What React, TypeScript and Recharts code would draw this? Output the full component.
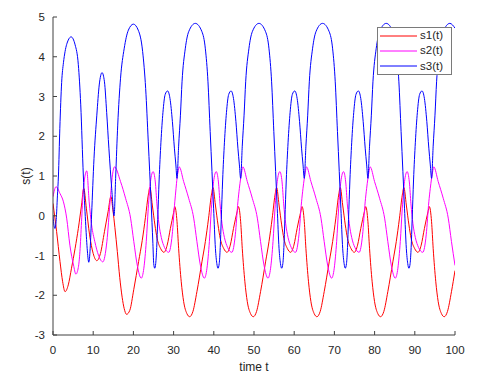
import React from 'react';
import { LineChart, Line, XAxis, YAxis, Legend } from 'recharts';

const xTicks = [0, 10, 20, 30, 40, 50, 60, 70, 80, 90, 100];
const yTicks = [-3, -2, -1, 0, 1, 2, 3, 4, 5];
const seriesNames = ['s1(t)', 's2(t)', 's3(t)'];
const seriesColors = ['#ff0000', '#ff00ff', '#0000ff'];

// s1(t) – red
const s1Time = [
  0, 0.9, 1.74, 2.4, 3.0, 3.8, 4.6, 5.5, 6.3, 7.1, 7.65, 8.3, 9.1, 10.0, 10.9, 11.8, 12.8, 13.7, 14.4, 14.9,
  15.4, 16.0, 16.6, 17.2, 17.7, 18.3, 19.1, 20.1, 21.3, 22.2, 23.0, 23.7, 24.1, 24.7, 25.35, 25.9, 26.75, 27.6,
  28.4, 29.2, 30.0,
  30.3, 30.85, 31.25, 31.9, 32.5, 33.3, 34.0, 34.8, 35.8, 37.05, 37.9, 38.7, 39.4, 39.8, 40.4, 41.05, 41.6,
  42.45, 43.3, 44.1, 44.9, 45.8,
  46.13, 46.68, 47.08, 47.73, 48.33, 49.13, 49.83, 50.63, 51.63, 52.88, 53.73, 54.53, 55.23, 55.63, 56.23,
  56.88, 57.43, 58.28, 59.13, 59.93, 60.73, 61.63,
  61.96, 62.51, 62.91, 63.56, 64.16, 64.96, 65.66, 66.46, 67.46, 68.71, 69.56, 70.36, 71.06, 71.46, 72.06,
  72.71, 73.26, 74.11, 74.96, 75.76, 76.56, 77.46,
  77.79, 78.34, 78.74, 79.39, 79.99, 80.79, 81.49, 82.29, 83.29, 84.54, 85.39, 86.19, 86.89, 87.29, 87.89,
  88.54, 89.09, 89.94, 90.79, 91.59, 92.39, 93.29,
  93.62, 94.17, 94.57, 95.22, 95.82, 96.62, 97.32, 98.12, 99.12, 100,
];
const s1Value = [
  0.31, -0.4, -1.15, -1.66, -1.91, -1.74, -1.32, -0.82, -0.32, 0.27, 0.69, 0.19, -0.48, -0.95, -1.13, -0.95,
  -0.4, 0.1, 0.48, 0.15, -0.3, -0.9, -1.55, -2.05, -2.33, -2.48, -2.38, -1.85, -1.15, -0.62, -0.04, 0.52, 0.71,
  0.27, -0.23, -0.57, -0.82, -0.92, -0.74, -0.32, 0.08,
  0.23, -0.15, -0.82, -1.66, -2.16, -2.46, -2.54, -2.41, -1.91, -1.16, -0.65, -0.06, 0.52, 0.71, 0.27, -0.23,
  -0.57, -0.82, -0.92, -0.74, -0.32, 0.1,
  0.23, -0.15, -0.82, -1.66, -2.16, -2.46, -2.54, -2.41, -1.91, -1.16, -0.65, -0.06, 0.52, 0.71, 0.27, -0.23,
  -0.57, -0.82, -0.92, -0.74, -0.32, 0.1,
  0.23, -0.15, -0.82, -1.66, -2.16, -2.46, -2.54, -2.41, -1.91, -1.16, -0.65, -0.06, 0.52, 0.71, 0.27, -0.23,
  -0.57, -0.82, -0.92, -0.74, -0.32, 0.1,
  0.23, -0.15, -0.82, -1.66, -2.16, -2.46, -2.54, -2.41, -1.91, -1.16, -0.65, -0.06, 0.52, 0.71, 0.27, -0.23,
  -0.57, -0.82, -0.92, -0.74, -0.32, 0.1,
  0.23, -0.15, -0.82, -1.66, -2.16, -2.46, -2.54, -2.41, -1.91, -1.38,
];

// s2(t) – magenta
const s2Time = [
  0, 0.75, 1.74, 2.6, 3.4, 4.2, 5.1, 5.7, 6.3, 6.7, 7.1, 7.5, 8.4, 9.0, 9.6, 10.4, 11.3, 12.4, 13.4, 14.2, 14.8,
  15.3, 16.8, 18.05, 19.3, 20.1, 20.95, 21.95, 22.6, 23.2, 23.7, 24.25, 24.9, 25.45, 25.85, 26.35, 26.95, 27.75,
  28.8, 29.65, 30.3, 30.6,
  30.85, 31.1, 31.4, 32.5, 33.75, 35.0, 35.8, 36.65, 37.65, 38.3, 38.9, 39.4, 39.95, 40.6, 41.15, 41.55, 42.05,
  42.65, 43.45, 44.5, 45.35, 46.0, 46.35,
  46.68, 46.93, 47.23, 48.33, 49.58, 50.83, 51.63, 52.48, 53.48, 54.13, 54.73, 55.23, 55.78, 56.43, 56.98,
  57.38, 57.88, 58.48, 59.28, 60.33, 61.18, 61.83, 62.18,
  62.51, 62.76, 63.06, 64.16, 65.41, 66.66, 67.46, 68.31, 69.31, 69.96, 70.56, 71.06, 71.61, 72.26, 72.81,
  73.21, 73.71, 74.31, 75.11, 76.16, 77.01, 77.66, 78.01,
  78.34, 78.59, 78.89, 79.99, 81.24, 82.49, 83.29, 84.14, 85.14, 85.79, 86.39, 86.89, 87.44, 88.09, 88.64,
  89.04, 89.54, 90.14, 90.94, 91.99, 92.84, 93.49, 93.84,
  94.17, 94.42, 94.72, 95.82, 97.07, 98.32, 99.12, 100,
];
const s2Value = [
  0.48, 0.73, 0.56, 0.35, -0.06, -0.74, -1.24, -1.47, -1.3, -0.9, -0.15, 0.6, 1.13, 0.35, -0.23, -0.65, -0.99,
  -1.16, -0.65, 0.35, 1.03, 1.23, 0.86, 0.44, -0.06, -0.65, -1.24, -1.57, -1.32, -0.65, 0.19, 0.86, 1.11, 0.85,
  0.3, -0.2, -0.55, -0.8, -0.92, -0.48, 0.35, 0.68,
  0.94, 1.1, 1.23, 0.86, 0.44, -0.06, -0.65, -1.24, -1.57, -1.32, -0.65, 0.19, 0.86, 1.11, 0.85, 0.3, -0.2,
  -0.55, -0.8, -0.92, -0.48, 0.35, 0.68,
  0.94, 1.1, 1.23, 0.86, 0.44, -0.06, -0.65, -1.24, -1.57, -1.32, -0.65, 0.19, 0.86, 1.11, 0.85, 0.3, -0.2,
  -0.55, -0.8, -0.92, -0.48, 0.35, 0.68,
  0.94, 1.1, 1.23, 0.86, 0.44, -0.06, -0.65, -1.24, -1.57, -1.32, -0.65, 0.19, 0.86, 1.11, 0.85, 0.3, -0.2,
  -0.55, -0.8, -0.92, -0.48, 0.35, 0.68,
  0.94, 1.1, 1.23, 0.86, 0.44, -0.06, -0.65, -1.24, -1.57, -1.32, -0.65, 0.19, 0.86, 1.11, 0.85, 0.3, -0.2,
  -0.55, -0.8, -0.92, -0.48, 0.35, 0.68,
  0.94, 1.1, 1.23, 0.86, 0.44, -0.06, -0.65, -1.25,
];

// s3(t) – blue
const s3Time = [
  0, 0.25, 0.5, 0.8, 1.1, 1.35, 1.7, 2.15, 2.6, 3.0, 3.8, 4.5, 5.5, 6.3, 6.9, 7.55, 8.1, 8.5, 8.9, 9.25, 9.6,
  10.2, 10.9, 11.5, 12.2, 12.8, 13.35, 13.9, 14.6, 15.2, 15.6, 16.1, 16.8, 17.7, 18.75, 20.0, 21.2, 22.3, 23.05,
  23.7, 24.4, 24.85, 25.05, 25.3, 25.55, 25.8, 26.05, 26.4, 26.85, 27.35, 27.9, 28.5, 29.1, 29.7, 30.2, 30.55,
  30.85, 31.25, 31.7, 32.1, 32.9, 33.75, 35.4, 37.05, 37.9, 38.55, 39.1, 39.55, 39.95, 40.4, 40.75, 41.05,
  41.35, 41.6, 41.85, 42.2, 42.65, 43.15, 43.7, 44.3, 44.9, 45.5, 46.0, 46.35,
  46.68, 47.08, 47.53, 47.93, 48.73, 49.58, 51.23, 52.88, 53.73, 54.38, 54.93, 55.38, 55.78, 56.23, 56.58,
  56.88, 57.18, 57.43, 57.68, 58.03, 58.48, 58.98, 59.53, 60.13, 60.73, 61.33, 61.83, 62.18,
  62.51, 62.91, 63.36, 63.76, 64.56, 65.41, 67.06, 68.71, 69.56, 70.21, 70.76, 71.21, 71.61, 72.06, 72.41,
  72.71, 73.01, 73.26, 73.51, 73.86, 74.31, 74.81, 75.36, 75.96, 76.56, 77.16, 77.66, 78.01,
  78.34, 78.74, 79.19, 79.59, 80.39, 81.24, 82.89, 84.54, 85.39, 86.04, 86.59, 87.04, 87.44, 87.89, 88.24,
  88.54, 88.84, 89.09, 89.34, 89.69, 90.14, 90.64, 91.19, 91.79, 92.39, 92.99, 93.49, 93.84,
  94.17, 94.57, 95.02, 95.42, 96.22, 97.07, 98.72, 100,
];
const s3Value = [
  0.0, -0.25, -0.32, -0.1, 0.5, 1.0, 2.2, 3.35, 3.85, 4.13, 4.42, 4.5, 4.3, 3.8, 2.79, 1.0, -0.15, -0.82, -1.17,
  -0.82, 0.02, 1.44, 2.53, 3.29, 3.6, 3.37, 2.6, 1.7, 0.69, 0.0, 1.0, 2.28, 3.46, 4.2, 4.67, 4.82, 4.67, 4.13,
  3.2, 1.86, 0.35, -0.7, -1.2, -1.32, -1.2, -0.8, -0.1, 0.9, 1.85, 2.6, 3.05, 3.14, 2.95, 2.37, 1.7, 1.3,
  0.94, 1.75, 2.53, 3.37, 4.2, 4.63, 4.84, 4.63, 4.2, 3.37, 2.12, 1.11, 0.19, -0.82, -1.2, -1.32, -1.2, -0.8,
  -0.1, 0.9, 1.85, 2.6, 3.05, 3.14, 2.95, 2.37, 1.7, 1.3,
  0.94, 1.75, 2.53, 3.37, 4.2, 4.63, 4.84, 4.63, 4.2, 3.37, 2.12, 1.11, 0.19, -0.82, -1.2, -1.32, -1.2, -0.8,
  -0.1, 0.9, 1.85, 2.6, 3.05, 3.14, 2.95, 2.37, 1.7, 1.3,
  0.94, 1.75, 2.53, 3.37, 4.2, 4.63, 4.84, 4.63, 4.2, 3.37, 2.12, 1.11, 0.19, -0.82, -1.2, -1.32, -1.2, -0.8,
  -0.1, 0.9, 1.85, 2.6, 3.05, 3.14, 2.95, 2.37, 1.7, 1.3,
  0.94, 1.75, 2.53, 3.37, 4.2, 4.63, 4.84, 4.63, 4.2, 3.37, 2.12, 1.11, 0.19, -0.82, -1.2, -1.32, -1.2, -0.8,
  -0.1, 0.9, 1.85, 2.6, 3.05, 3.14, 2.95, 2.37, 1.7, 1.3,
  0.94, 1.75, 2.53, 3.37, 4.2, 4.63, 4.84, 4.72,
];

const zip = (ts: number[], vs: number[]) => ts.map((t, i) => ({ t, v: vs[i] }));
const seriesData = [zip(s1Time, s1Value), zip(s2Time, s2Value), zip(s3Time, s3Value)];

const FONT = '"Liberation Sans", Arial, Helvetica, sans-serif';
const AXIS_COLOR = '#404040';
const TEXT_COLOR = '#262626';
const TICK_LEN = 4;

const BottomTick = (props: any) => {
  const { x, y, payload } = props;
  return (
    <g>
      <line x1={x} x2={x} y1={y} y2={y - TICK_LEN} stroke={AXIS_COLOR} strokeWidth={1} />
      <text x={x} y={y + 19} textAnchor="middle" fontSize={11.5} fontFamily={FONT} fill={TEXT_COLOR}>
        {payload.value}
      </text>
    </g>
  );
};
const TopTick = (props: any) => {
  const { x, y } = props;
  return <line x1={x} x2={x} y1={y} y2={y + TICK_LEN} stroke={AXIS_COLOR} strokeWidth={1} />;
};
const LeftTick = (props: any) => {
  const { x, y, payload } = props;
  return (
    <g>
      <line x1={x} x2={x + TICK_LEN} y1={y} y2={y} stroke={AXIS_COLOR} strokeWidth={1} />
      <text x={x - 8} y={y + 4} textAnchor="end" fontSize={11.5} fontFamily={FONT} fill={TEXT_COLOR}>
        {payload.value}
      </text>
    </g>
  );
};
const RightTick = (props: any) => {
  const { x, y } = props;
  return <line x1={x} x2={x - TICK_LEN} y1={y} y2={y} stroke={AXIS_COLOR} strokeWidth={1} />;
};

const LegendBox = (props: any) => {
  const payload = props.payload || [];
  return (
    <div
      style={{
        width: 75,
        height: 48,
        boxSizing: 'border-box',
        border: '1px solid #7a7a7a',
        background: '#ffffff',
        fontFamily: FONT,
        fontSize: 11.5,
        color: TEXT_COLOR,
      }}
    >
      {payload.map((e: any) => (
        <div key={e.value} style={{ height: 15.3, display: 'flex', alignItems: 'center' }}>
          <svg width={42} height={10} style={{ flex: 'none' }}>
            <line x1={2} x2={39} y1={5} y2={5} stroke={e.color} strokeWidth={1} />
          </svg>
          <span style={{ lineHeight: '15px' }}>{e.value}</span>
        </div>
      ))}
    </div>
  );
};

export default function App() {
  return (
    <div style={{ position: 'absolute', left: 0, top: 0, width: 481, height: 381, background: '#fff' }}>
      <LineChart width={481} height={381} margin={{ top: 17, right: 26, bottom: 0, left: 0 }}>
        <XAxis
          xAxisId="b"
          dataKey="t"
          type="number"
          domain={[0, 100]}
          ticks={xTicks}
          interval={0}
          allowDataOverflow
          height={46}
          tickSize={0}
          tickMargin={0}
          tickLine={false}
          axisLine={{ stroke: AXIS_COLOR, strokeWidth: 1 }}
          tick={<BottomTick />}
          label={{
            content: () => (
              <text x={254} y={371} textAnchor="middle" fontSize={12} fontFamily={FONT} fill={TEXT_COLOR}>
                time t
              </text>
            ),
          }}
        />
        <XAxis
          xAxisId="top"
          orientation="top"
          dataKey="t"
          type="number"
          domain={[0, 100]}
          ticks={xTicks}
          interval={0}
          height={0}
          tickSize={0}
          tickMargin={0}
          tickLine={false}
          axisLine={{ stroke: AXIS_COLOR, strokeWidth: 1 }}
          tick={<TopTick />}
        />
        <YAxis
          yAxisId="l"
          type="number"
          domain={[-3, 5]}
          ticks={yTicks}
          interval={0}
          allowDataOverflow
          width={53}
          tickSize={0}
          tickMargin={0}
          tickLine={false}
          axisLine={{ stroke: AXIS_COLOR, strokeWidth: 1 }}
          tick={<LeftTick />}
          label={{
            content: () => (
              <text
                transform="translate(29.5,176) rotate(-90)"
                textAnchor="middle"
                fontSize={12}
                fontFamily={FONT}
                fill={TEXT_COLOR}
              >
                s(t)
              </text>
            ),
          }}
        />
        <YAxis
          yAxisId="r"
          orientation="right"
          type="number"
          domain={[-3, 5]}
          ticks={yTicks}
          interval={0}
          width={0}
          tickSize={0}
          tickMargin={0}
          tickLine={false}
          axisLine={{ stroke: AXIS_COLOR, strokeWidth: 1 }}
          tick={<RightTick />}
        />
        <Legend
          layout="vertical"
          align="center"
          verticalAlign="middle"
          wrapperStyle={{ left: 377, top: 27, width: 75, height: 48 }}
          content={<LegendBox />}
        />
        {seriesData.map((d, i) => (
          <Line
            key={seriesNames[i]}
            xAxisId="b"
            yAxisId="l"
            data={d}
            dataKey="v"
            name={seriesNames[i]}
            type="monotone"
            stroke={seriesColors[i]}
            strokeWidth={1}
            dot={false}
            activeDot={false}
            isAnimationActive={false}
          />
        ))}
      </LineChart>
    </div>
  );
}
